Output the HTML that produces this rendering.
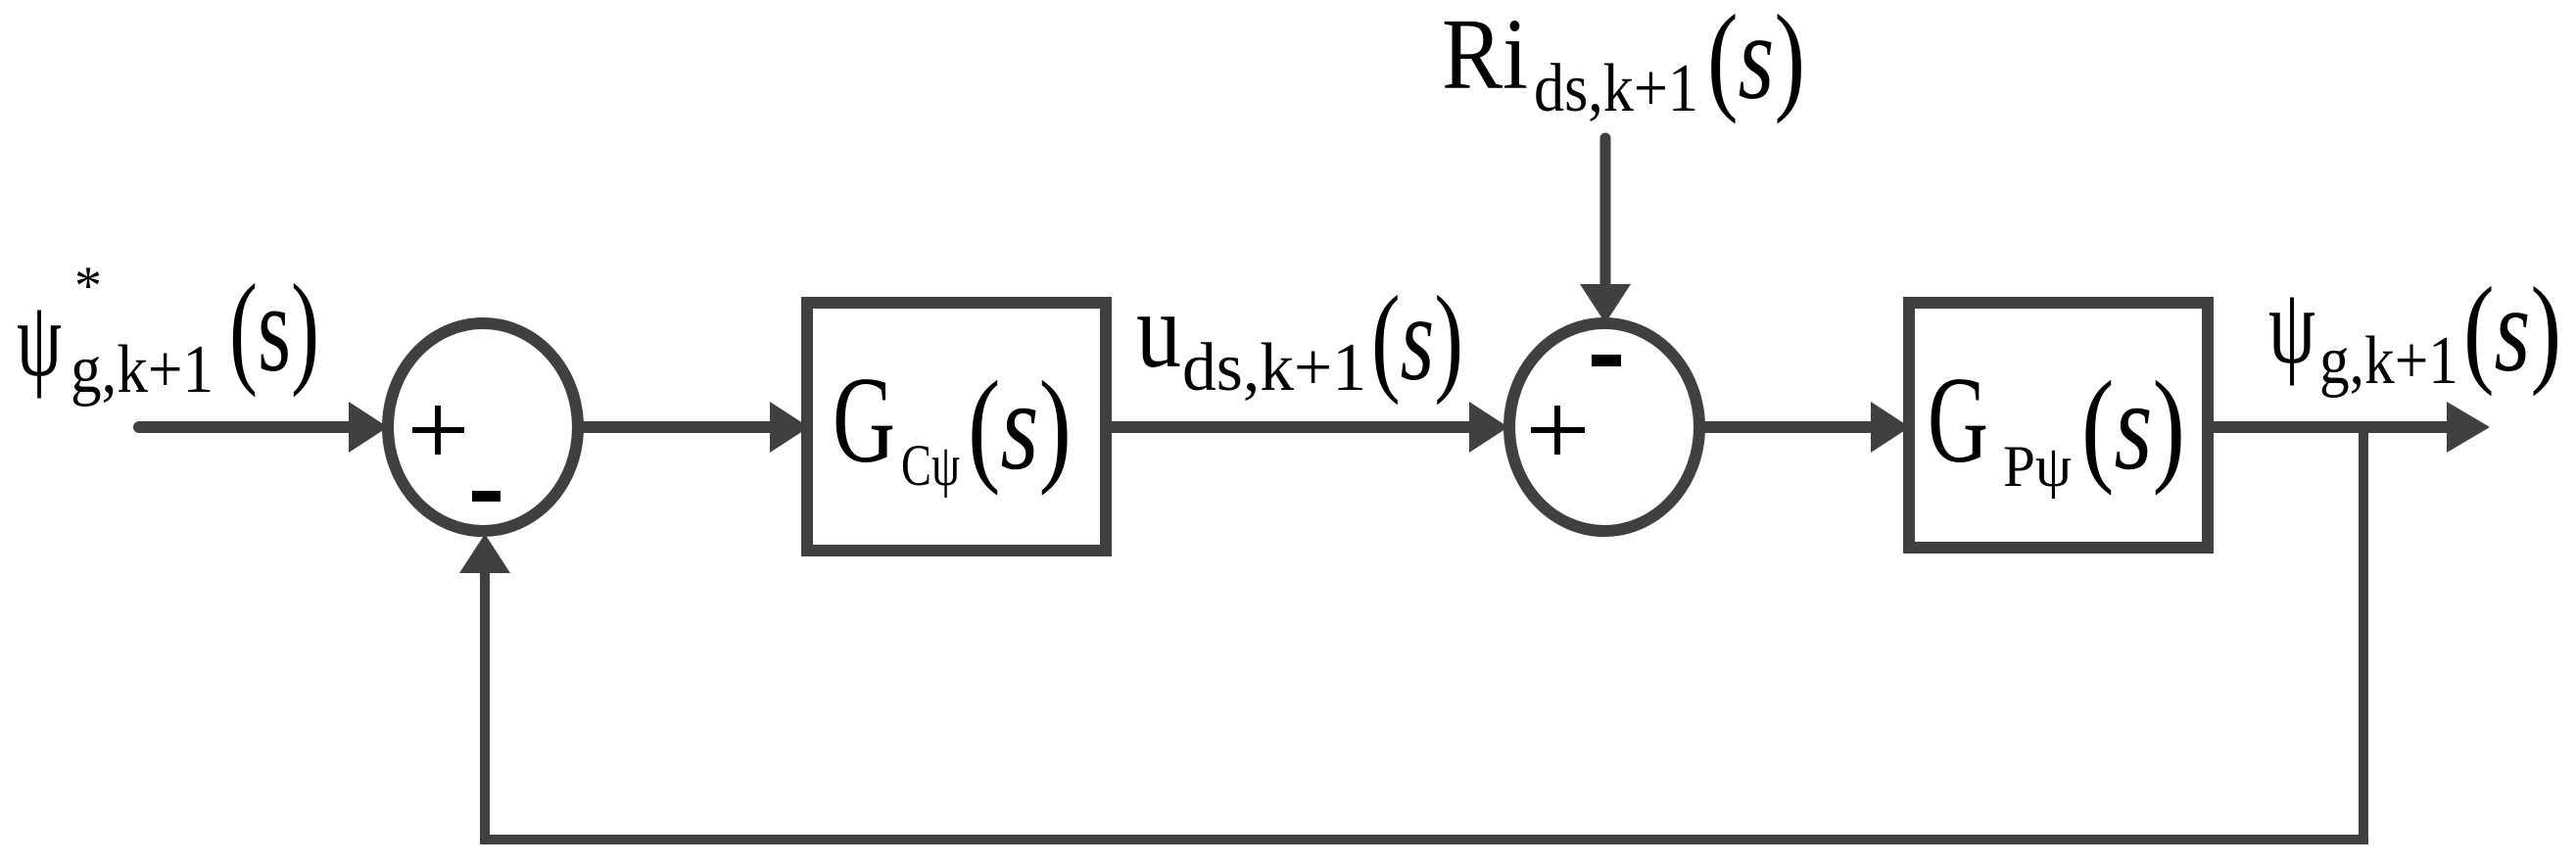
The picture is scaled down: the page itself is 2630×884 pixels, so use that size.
<!DOCTYPE html>
<html><head><meta charset="utf-8"><style>html,body{margin:0;padding:0;background:#fff}svg{display:block}
.t{font-family:"Liberation Serif","Times New Roman",serif;fill:#000}
.i{font-style:italic}</style></head>
<body>
<svg width="2630" height="884" viewBox="0 0 2630 884" xmlns="http://www.w3.org/2000/svg">
<g stroke="#404040" fill="none">
  <ellipse cx="493" cy="436" rx="97" ry="106" stroke-width="12"/>
  <ellipse cx="1638" cy="436" rx="97" ry="106" stroke-width="12"/>
  <rect x="824" y="309" width="305" height="253" stroke-width="12"/>
  <rect x="1949" y="309" width="305" height="250" stroke-width="12"/>
  <line x1="142" y1="436" x2="370" y2="436" stroke-width="12" stroke-linecap="round"/>
  <line x1="590" y1="436" x2="800" y2="436" stroke-width="12"/>
  <line x1="1129" y1="436" x2="1515" y2="436" stroke-width="12"/>
  <line x1="1735" y1="436" x2="1925" y2="436" stroke-width="12"/>
  <line x1="2254" y1="436" x2="2510" y2="436" stroke-width="12"/>
  <line x1="1639" y1="141" x2="1639" y2="300" stroke-width="11" stroke-linecap="round"/>
  <polyline points="2413,436 2413,857 495,857 495,580" stroke-width="10"/>
</g>
<g fill="#404040">
  <polygon points="356,410 396,436 356,462"/>
  <polygon points="786,410 826,436 786,462"/>
  <polygon points="1500,410 1540,436 1500,462"/>
  <polygon points="1910,410 1950,436 1910,462"/>
  <polygon points="2498,410 2542,436 2498,462"/>
  <polygon points="1613,290 1639,330 1665,290"/>
  <polygon points="469,585 495,545 521,585"/>
</g>
<g fill="#000">
  <rect x="421" y="436" width="53" height="6"/><rect x="444" y="414" width="6" height="50"/>
  <rect x="482" y="501" width="29" height="11"/>
  <rect x="1563" y="436" width="55" height="6"/><rect x="1587" y="414" width="6" height="50"/>
  <rect x="1625" y="362" width="30" height="12"/>
</g>
<g class="t">
  <text x="17" y="383" font-size="110" textLength="46" lengthAdjust="spacingAndGlyphs">ψ</text>
  <text x="76" y="310" font-size="56">*</text>
  <text x="72" y="400" font-size="70" textLength="146" lengthAdjust="spacingAndGlyphs">g,k+1</text>
  <text x="234" y="378" font-size="128" textLength="92" lengthAdjust="spacingAndGlyphs">(s)</text>

  <text x="850" y="471" font-size="126" textLength="64" lengthAdjust="spacingAndGlyphs">G</text>
  <text x="920" y="495" font-size="60" textLength="60" lengthAdjust="spacingAndGlyphs">Cψ</text>
  <text x="988" y="478" font-size="130" textLength="106" lengthAdjust="spacingAndGlyphs">(<tspan class="i">s</tspan>)</text>

  <text x="1160" y="374" font-size="110" textLength="46" lengthAdjust="spacingAndGlyphs">u</text>
  <text x="1207" y="398" font-size="70" textLength="188" lengthAdjust="spacingAndGlyphs">ds,k+1</text>
  <text x="1400" y="387" font-size="124" textLength="94" lengthAdjust="spacingAndGlyphs">(<tspan class="i">s</tspan>)</text>

  <text x="1472" y="90" font-size="104" textLength="88" lengthAdjust="spacingAndGlyphs">Ri</text>
  <text x="1566" y="113" font-size="70" textLength="168" lengthAdjust="spacingAndGlyphs">ds,k+1</text>
  <text x="1743" y="100" font-size="124" textLength="100" lengthAdjust="spacingAndGlyphs">(<tspan class="i">s</tspan>)</text>

  <text x="1968" y="471" font-size="126" textLength="62" lengthAdjust="spacingAndGlyphs">G</text>
  <text x="2045" y="496" font-size="60" textLength="70" lengthAdjust="spacingAndGlyphs">Pψ</text>
  <text x="2125" y="478" font-size="130" textLength="106" lengthAdjust="spacingAndGlyphs">(<tspan class="i">s</tspan>)</text>

  <text x="2316" y="370" font-size="110" textLength="48" lengthAdjust="spacingAndGlyphs">ψ</text>
  <text x="2368" y="391" font-size="70" textLength="142" lengthAdjust="spacingAndGlyphs">g,k+1</text>
  <text x="2515" y="378" font-size="124" textLength="100" lengthAdjust="spacingAndGlyphs">(<tspan class="i">s</tspan>)</text>
</g>
</svg>
</body></html>
